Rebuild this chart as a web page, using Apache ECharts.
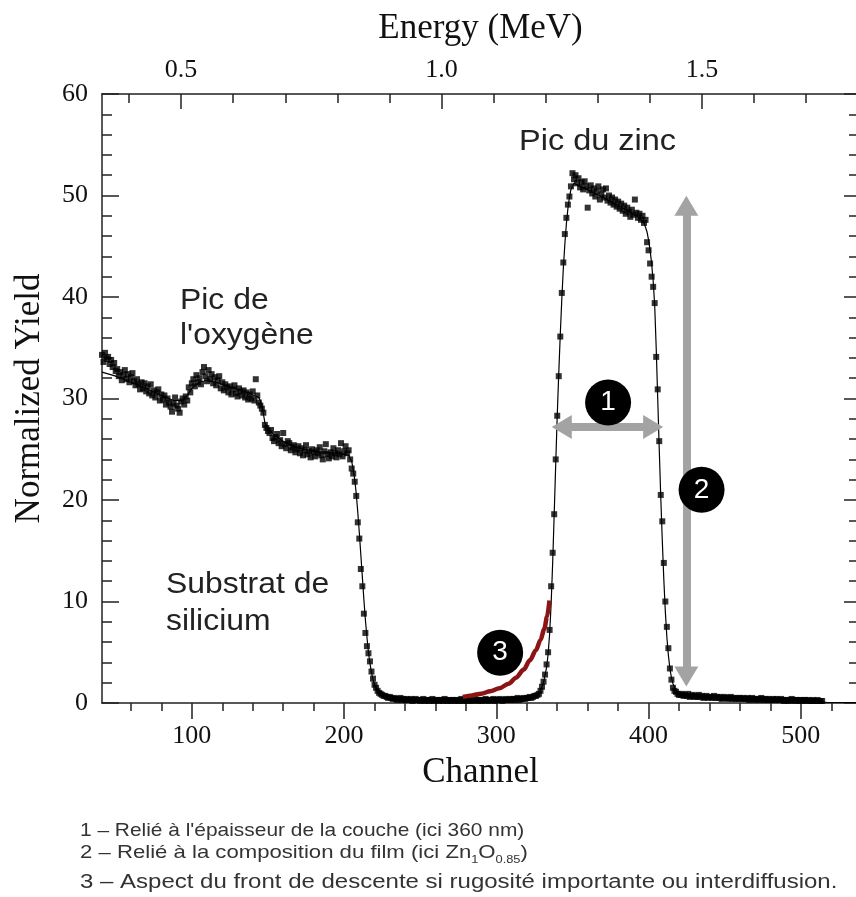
<!DOCTYPE html>
<html>
<head>
<meta charset="utf-8">
<script src="https://cdn.jsdelivr.net/npm/echarts@6/dist/echarts.min.js"></script>
<style>
  html, body { margin: 0; padding: 0; background: #fff; }
  #chart { width: 856px; height: 897px; }
</style>
</head>
<body>
<div id="chart"></div>
<script>
// mesures RBS : un point par canal, par segments (canal de départ + valeurs)
var oxyStart = 41;
var oxyYield = [
  34.3, 33.6, 34.5, 33.9, 34.1, 33.4, 33.8, 33.1, 33.5, 32.7,
  32.9, 32.2, 32.6, 31.8, 32.3, 32.8, 31.9, 32.4, 31.6, 32.1,
  32.5, 31.7, 31.3, 31.9, 31.4, 30.9, 31.6, 31.0, 31.5, 30.7,
  31.2, 30.5, 31.4, 30.3, 30.8, 30.1, 30.6, 30.9, 29.8, 30.4,
  29.9, 30.3, 29.4, 30.0, 29.6, 29.2, 28.7, 29.5, 30.1, 29.3,
  29.0, 28.6, 29.7, 30.0, 29.4, 30.2, 29.8, 31.1, 30.6, 31.5,
  31.9, 31.2, 32.3, 31.6, 32.0, 31.4, 32.6, 33.1, 32.2, 31.7,
  32.8, 31.9, 32.4, 31.5, 32.1, 31.3, 31.8, 32.2, 31.0, 31.6,
  30.8, 31.4, 31.1, 30.6, 31.2, 30.4, 30.9, 31.3, 30.5, 30.2,
  31.0, 30.7, 30.3, 30.8, 30.1, 30.6, 29.9, 30.4, 30.0, 30.7,
  29.8, 31.9, 30.3, 29.6, 29.3, 29.0
];
var siStart = 147;
var siYield = [
  28.6, 27.4, 27.1, 26.8,
  26.6, 26.9, 26.1, 25.8, 26.2, 26.5, 25.6, 25.9, 25.3, 26.6,
  25.5, 25.1, 25.8, 25.6, 24.9, 25.2, 25.4, 24.7, 25.0, 25.3,
  24.6, 25.1, 24.4, 24.9, 25.4, 24.5, 24.8, 24.2, 25.0, 24.7,
  24.3, 24.9, 24.6, 25.2, 24.4, 24.0, 24.8, 25.5, 24.5, 24.1,
  24.7, 24.3, 25.1, 24.6, 24.2, 24.9, 24.5, 25.6, 24.3, 24.8,
  25.3, 24.6, 24.9, 24.0
];
var siEdgeStart = 205;
var siEdgeYield = [
  23.1, 22.6, 21.8, 20.4, 17.8, 16.2, 13.2, 11.5, 8.8, 6.9,
  5.6, 4.9, 4.1, 3.1, 2.4, 1.8, 1.5, 1.2, 1.0, 0.9,
  0.8, 0.7, 0.7, 0.6, 0.5, 0.6
];
var gapStart = 231;
var gapYield = [
  0.5, 0.4, 0.5, 0.4, 0.3, 0.4, 0.5, 0.3, 0.4, 0.3,
  0.4, 0.3, 0.3, 0.4, 0.2, 0.3, 0.4, 0.3, 0.3, 0.2,
  0.3, 0.4, 0.2, 0.3, 0.3, 0.2, 0.3, 0.4, 0.2, 0.3,
  0.3, 0.2, 0.3, 0.3, 0.2, 0.4, 0.3, 0.2, 0.3, 0.2,
  0.3, 0.3, 0.2, 0.3, 0.2, 0.3, 0.4, 0.2, 0.3, 0.3,
  0.2, 0.3, 0.3, 0.2, 0.3, 0.4, 0.3, 0.2, 0.3, 0.3,
  0.2, 0.3, 0.4, 0.3, 0.2, 0.3, 0.3, 0.4, 0.2, 0.3,
  0.3, 0.4, 0.3, 0.2, 0.3, 0.4, 0.3, 0.3, 0.4, 0.3,
  0.4, 0.3, 0.4, 0.5, 0.3, 0.4, 0.4, 0.5, 0.4, 0.5,
  0.5, 0.6, 0.5, 0.6, 0.7, 0.7
];
var znRiseStart = 327;
var znRiseYield = [
  0.8, 0.9, 1.2, 1.6, 2.1, 2.8, 3.8, 5.0, 7.2, 11.5,
  14.8, 18.6, 24.0, 28.3, 32.2, 36.1, 40.4, 43.4, 46.2, 47.8,
  49.1, 49.9, 50.9, 52.2
];
var znTopStart = 351;
var znTopYield = [
  51.6, 52.0, 51.2, 51.7, 50.8, 51.3, 50.6, 51.4, 50.9, 48.8,
  50.5, 51.0, 50.2, 50.7, 49.9, 50.4, 50.9, 49.6, 50.1, 50.6,
  49.8, 50.7, 49.5, 50.0, 49.3, 49.8, 49.1, 49.6, 48.9, 49.4,
  48.7, 49.2, 48.5, 49.0, 48.2, 48.8, 48.4, 47.9, 48.6, 48.1,
  49.6, 48.3, 47.8, 48.2, 47.6, 48.0, 47.3, 47.6, 45.4, 44.6
];
var znFallStart = 401;
var znFallYield = [
  43.3, 42.0, 41.0, 39.4, 34.1, 30.9, 25.8, 20.5, 17.9, 13.8,
  10.0, 7.5, 5.4, 3.4, 2.3, 1.5, 1.2, 1.1, 0.9, 0.8
];
var tailStart = 421;
var tailYield = [
  0.8, 0.9, 0.7, 0.8, 0.7, 0.9, 0.6, 0.7, 0.8, 0.6,
  0.7, 0.6, 0.8, 0.6, 0.7, 0.5, 0.6, 0.7, 0.5, 0.6,
  0.6, 0.5, 0.7, 0.5, 0.6, 0.5, 0.6, 0.4, 0.5, 0.6,
  0.5, 0.4, 0.5, 0.6, 0.4, 0.5, 0.4, 0.5, 0.4, 0.5,
  0.4, 0.5, 0.4, 0.4, 0.5, 0.3, 0.4, 0.5, 0.4, 0.3,
  0.4, 0.4, 0.3, 0.5, 0.4, 0.3, 0.4, 0.3, 0.4, 0.3,
  0.3, 0.4, 0.3, 0.4, 0.3, 0.3, 0.4, 0.3, 0.2, 0.3,
  0.3, 0.2, 0.3, 0.4, 0.3, 0.2, 0.3, 0.3, 0.2, 0.3,
  0.2, 0.3, 0.3, 0.2, 0.3, 0.2, 0.2, 0.3, 0.2, 0.2,
  0.3, 0.2, 0.2, 0.2
];

// simulation (trait fin)
var fitChannel = [41, 50, 60, 70, 80, 88, 94, 97, 100, 105, 110, 118, 128, 138, 144, 146, 148, 150, 155, 162, 170, 180, 190, 200, 203,
  205, 206, 207, 208, 209, 210, 211, 212, 213, 214, 215, 216, 217, 218, 219, 220, 222, 224, 227, 232, 240, 260, 300, 320, 324,
  327, 329, 331, 333, 334, 335, 336, 337, 338, 339, 340, 341, 342, 343, 344, 345, 346, 347, 348, 349, 351, 355, 365, 375, 385,
  393, 397, 399, 400, 401, 402, 403, 404, 405, 406, 407, 408, 409, 410, 411, 412, 413, 414, 415, 416, 418, 420, 425, 440, 460,
  480, 500, 510, 514, 517, 538];
var fitYield = [32.6, 32.2, 31.6, 31.0, 30.3, 29.8, 29.8, 30.3, 31.0, 31.6, 31.8, 31.5, 31.0, 30.5, 30.1, 29.4, 27.6, 27.0, 26.3, 25.6, 25.1, 24.8, 24.7, 24.5, 24.4,
  23.8, 23.0, 22.0, 20.6, 18.8, 16.8, 14.6, 12.4, 10.2, 8.2, 6.5, 5.0, 3.9, 3.0, 2.3, 1.8, 1.2, 0.9, 0.6, 0.4, 0.3, 0.25, 0.25, 0.35, 0.5,
  0.8, 1.2, 2.0, 3.5, 4.8, 6.8, 9.8, 13.8, 18.6, 23.5, 28.3, 32.5, 36.3, 39.8, 42.8, 45.2, 47.2, 48.7, 49.8, 50.6, 51.2, 50.9, 50.2, 49.4, 48.6,
  47.9, 47.3, 46.4, 45.6, 44.6, 43.3, 41.6, 39.2, 35.0, 30.0, 25.0, 20.3, 16.0, 12.2, 9.0, 6.5, 4.7, 3.4, 2.5, 1.9, 1.2, 0.9, 0.7, 0.55, 0.45,
  0.35, 0.3, 0.25, 0.15, 0.05, 0.05];

// front de descente si rugosité (courbe rouge)
var roughChannel = [278, 284, 290, 296, 302, 308, 313, 318, 322, 326, 329, 331.5, 333.3, 334.9];
var roughYield = [0.6, 0.75, 0.92, 1.15, 1.45, 1.9, 2.5, 3.3, 4.2, 5.2, 6.2, 7.3, 8.5, 10.1];

// axes
var channelMajor = [100, 200, 300, 400, 500];
var channelMinor = [60, 80, 120, 140, 160, 180, 220, 240, 260, 280, 320, 340, 360, 380, 420, 440, 460, 480, 520];
var energyMajor = [0.5, 1.0, 1.5];
var energyMinor = [0.4, 0.6, 0.7, 0.8, 0.9, 1.1, 1.2, 1.3, 1.4, 1.6, 1.7];

function seg(start, values) {
  return values.map(function (v, i) { return [start + i, v]; });
}
var measured = [].concat(
  seg(oxyStart, oxyYield), seg(siStart, siYield), seg(siEdgeStart, siEdgeYield),
  seg(gapStart, gapYield), seg(znRiseStart, znRiseYield), seg(znTopStart, znTopYield),
  seg(znFallStart, znFallYield), seg(tailStart, tailYield)
);
var fit = fitChannel.map(function (c, i) { return [c, fitYield[i]]; });
var rough = roughChannel.map(function (c, i) { return [c, roughYield[i]]; });

var serif = 'Liberation Serif';
var sans = 'Liberation Sans';
var axisColor = '#222';
var chMin = 41, chMax = 538.2, eMin = 0.3482, eMax = 1.8013;

var chart = echarts.init(document.getElementById('chart'));
var option = {
  animation: false,
  backgroundColor: '#fff',
  grid: { left: 102, top: 94, right: -3, bottom: 194, containLabel: false, outerBoundsMode: 'none' },
  xAxis: [
    {
      type: 'value', position: 'bottom', min: chMin, max: chMax,
      name: 'Channel', nameLocation: 'middle', nameGap: 52,
      nameTextStyle: { fontFamily: serif, fontSize: 35, color: '#111' },
      axisLine: { lineStyle: { color: axisColor, width: 1.5 } },
      axisTick: { customValues: channelMajor, length: 16, lineStyle: { color: axisColor, width: 1.5 } },
      axisLabel: { customValues: channelMajor, fontFamily: serif, fontSize: 26, color: '#111', margin: 20 },
      splitLine: { show: false }
    },
    {
      type: 'value', position: 'bottom', min: chMin, max: chMax,
      axisLine: { show: false },
      axisTick: { customValues: channelMinor, length: 8, lineStyle: { color: axisColor, width: 1.5 } },
      axisLabel: { show: false },
      splitLine: { show: false }
    },
    {
      type: 'value', position: 'top', min: eMin, max: eMax,
      name: 'Energy (MeV)', nameLocation: 'middle', nameGap: 48,
      nameTextStyle: { fontFamily: serif, fontSize: 35, color: '#111' },
      axisLine: { lineStyle: { color: axisColor, width: 1.5 } },
      axisTick: { inside: true, customValues: energyMajor, length: 15, lineStyle: { color: axisColor, width: 1.5 } },
      axisLabel: {
        customValues: energyMajor, fontFamily: serif, fontSize: 26, color: '#111', margin: 11,
        formatter: function (v) { return v.toFixed(1); }
      },
      splitLine: { show: false }
    },
    {
      type: 'value', position: 'top', min: eMin, max: eMax,
      axisLine: { show: false },
      axisTick: { inside: true, customValues: energyMinor, length: 9, lineStyle: { color: axisColor, width: 1.5 } },
      axisLabel: { show: false },
      splitLine: { show: false }
    }
  ],
  yAxis: [
    {
      type: 'value', position: 'left', min: 0, max: 60, interval: 10,
      name: 'Normalized Yield', nameLocation: 'middle', nameGap: 55, nameRotate: 90,
      nameTextStyle: { fontFamily: serif, fontSize: 35, color: '#111' },
      axisLine: { show: true, lineStyle: { color: axisColor, width: 1.5 } },
      axisTick: { show: true, inside: true, length: 17, lineStyle: { color: axisColor, width: 1.5 } },
      minorTick: { show: true, splitNumber: 5, length: 10, lineStyle: { color: axisColor, width: 1.5 } },
      axisLabel: { fontFamily: serif, fontSize: 26, color: '#111', margin: 14 },
      splitLine: { show: false }
    },
    {
      type: 'value', position: 'right', min: 0, max: 60, interval: 10,
      axisLine: { show: true, lineStyle: { color: axisColor, width: 1.5 } },
      axisTick: { show: true, inside: true, length: 15, lineStyle: { color: axisColor, width: 1.5 } },
      minorTick: { show: true, splitNumber: 5, length: 10, lineStyle: { color: axisColor, width: 1.5 } },
      axisLabel: { show: false },
      splitLine: { show: false }
    }
  ],
  series: [
    {
      name: 'simulation', type: 'line', data: fit, xAxisIndex: 0, yAxisIndex: 0,
      showSymbol: false, lineStyle: { color: '#000', width: 1.2 }, z: 2
    },
    {
      name: 'mesure', type: 'scatter', data: measured, xAxisIndex: 0, yAxisIndex: 0,
      symbol: 'rect', symbolSize: 6, itemStyle: { color: '#000' }, z: 3
    },
    {
      name: 'rugosite', type: 'line', data: rough, xAxisIndex: 0, yAxisIndex: 0,
      smooth: 0.3, smoothMonotone: 'x', showSymbol: false, lineStyle: { color: '#8b1414', width: 4.5 }, z: 4,
      markLine: {
        silent: true, symbol: ['triangle', 'triangle'], symbolSize: [24, 20],
        lineStyle: { color: '#a3a3a3', width: 8, type: 'solid' },
        itemStyle: { color: '#a3a3a3' },
        label: { show: false },
        data: [
          [{ coord: [343, 27.2] }, { coord: [403, 27.2] }],
          [{ coord: [424.8, 49.0] }, { coord: [424.8, 2.6] }]
        ],
        z: 5
      },
      markPoint: {
        silent: true, symbol: 'circle', symbolSize: 46,
        itemStyle: { color: '#000' },
        label: { show: true, position: 'inside', color: '#fff', fontFamily: sans, fontSize: 28, formatter: '{b}' },
        data: [
          { name: '1', coord: [373.4, 29.6] },
          { name: '2', coord: [434.8, 21.0] },
          { name: '3', coord: [302.5, 4.96] }
        ],
        z: 6
      }
    }
  ],
  graphic: [
    { type: 'text', left: 519, top: 127, scaleX: 1.12, style: { text: 'Pic du zinc', font: '29px ' + sans, fill: '#222' } },
    { type: 'text', left: 180, top: 283, scaleX: 1.1, style: { text: "Pic de\nl'oxygène", font: '29px ' + sans, fill: '#222', lineHeight: 35 } },
    { type: 'text', left: 166, top: 566, scaleX: 1.1, style: { text: 'Substrat de\nsilicium', font: '29px ' + sans, fill: '#222', lineHeight: 37 } },
    { type: 'text', left: 80, top: 821, scaleX: 1.1, style: { text: "1 – Relié à l'épaisseur de la couche (ici 360 nm)", font: '19px ' + sans, fill: '#333' } },
    {
      type: 'text', left: 80, top: 840, scaleX: 1.165,
      style: {
        text: '2 – Relié à la composition du film (ici Zn{s|1}O{s|0.85})',
        font: '19px ' + sans, fill: '#333', lineHeight: 25,
        rich: { s: { fontSize: 11, fontFamily: sans, fill: '#333', verticalAlign: 'bottom', lineHeight: 25 } }
      }
    },
    { type: 'text', left: 80, top: 872, scaleX: 1.2, style: { text: '3 – Aspect du front de descente si rugosité importante ou interdiffusion.', font: '20px ' + sans, fill: '#333' } }
  ]
};
chart.setOption(option);
</script>
</body>
</html>
